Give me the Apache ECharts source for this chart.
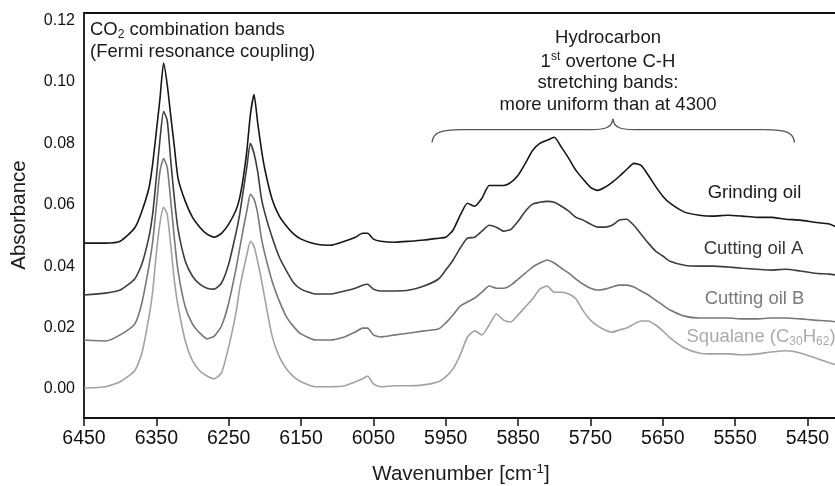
<!DOCTYPE html>
<html>
<head>
<meta charset="utf-8">
<script src="https://cdn.jsdelivr.net/npm/echarts@6/dist/echarts.min.js"></script>
<style>
  html, body { margin: 0; padding: 0; background: #fff; }
  #chart { width: 835px; height: 486px; }
</style>
</head>
<body>
<div id="chart"></div>
<script>
// NIR absorbance spectra of metalworking oils, 6450–5410 cm-1
const wavenumbers = [6450, 6420, 6400, 6380, 6370, 6360, 6355, 6350, 6345, 6340,
  6335, 6330, 6325, 6320, 6310, 6300, 6290, 6280, 6270, 6260,
  6250, 6240, 6235, 6230, 6225, 6220, 6215, 6210, 6205, 6200,
  6190, 6180, 6170, 6160, 6150, 6130, 6110, 6090, 6075, 6065,
  6058, 6050, 6040, 6020, 6000, 5980, 5960, 5950, 5940, 5930,
  5920, 5910, 5900, 5890, 5880, 5870, 5860, 5850, 5840, 5830,
  5820, 5810, 5800, 5790, 5780, 5770, 5760, 5750, 5740, 5730,
  5720, 5710, 5700, 5690, 5680, 5670, 5660, 5650, 5640, 5620,
  5600, 5580, 5560, 5540, 5520, 5500, 5480, 5460, 5440, 5420, 5410];

const grindingOil = [0.0475, 0.0475, 0.0481, 0.0524, 0.0579, 0.0657, 0.0735, 0.0839, 0.0946, 0.1062,
  0.0992, 0.0888, 0.0787, 0.0686, 0.0611, 0.0559, 0.0527, 0.0504, 0.0494, 0.0507,
  0.0537, 0.0582, 0.0621, 0.0686, 0.0774, 0.0894, 0.0959, 0.0868, 0.0784, 0.0715,
  0.0618, 0.0563, 0.0530, 0.0504, 0.0488, 0.0472, 0.0468, 0.0481, 0.0494, 0.0507,
  0.0507, 0.0488, 0.0481, 0.0478, 0.0481, 0.0485, 0.0491, 0.0494, 0.0517, 0.0566,
  0.0605, 0.0595, 0.0621, 0.0663, 0.0663, 0.0663, 0.0673, 0.0696, 0.0735, 0.0777,
  0.0800, 0.0810, 0.0820, 0.0787, 0.0751, 0.0712, 0.0683, 0.0657, 0.0647, 0.0657,
  0.0673, 0.0693, 0.0715, 0.0735, 0.0728, 0.0696, 0.0660, 0.0628, 0.0605, 0.0576,
  0.0566, 0.0563, 0.0566, 0.0563, 0.0559, 0.0559, 0.0553, 0.0550, 0.0543, 0.0537, 0.0527];

const cuttingOilA = [0.0306, 0.0312, 0.0322, 0.0358, 0.0407, 0.0498, 0.0572, 0.0689, 0.0813, 0.0904,
  0.0875, 0.0741, 0.0618, 0.0520, 0.0416, 0.0367, 0.0341, 0.0328, 0.0325, 0.0345,
  0.0407, 0.0507, 0.0566, 0.0644, 0.0722, 0.0800, 0.0767, 0.0709, 0.0624, 0.0572,
  0.0494, 0.0429, 0.0384, 0.0345, 0.0325, 0.0309, 0.0309, 0.0319, 0.0328, 0.0338,
  0.0341, 0.0325, 0.0319, 0.0319, 0.0322, 0.0335, 0.0358, 0.0387, 0.0419, 0.0459,
  0.0491, 0.0494, 0.0514, 0.0533, 0.0527, 0.0514, 0.0520, 0.0546, 0.0579, 0.0602,
  0.0608, 0.0611, 0.0608, 0.0595, 0.0579, 0.0559, 0.0550, 0.0537, 0.0527, 0.0527,
  0.0533, 0.0550, 0.0553, 0.0533, 0.0504, 0.0475, 0.0449, 0.0433, 0.0416, 0.0403,
  0.0400, 0.0400, 0.0397, 0.0393, 0.0390, 0.0387, 0.0390, 0.0384, 0.0377, 0.0374, 0.0371];

const cuttingOilB = [0.0159, 0.0156, 0.0176, 0.0211, 0.0280, 0.0403, 0.0481, 0.0595, 0.0709, 0.0751,
  0.0722, 0.0611, 0.0488, 0.0384, 0.0267, 0.0211, 0.0182, 0.0163, 0.0172, 0.0205,
  0.0280, 0.0390, 0.0455, 0.0520, 0.0579, 0.0634, 0.0618, 0.0572, 0.0494, 0.0439,
  0.0351, 0.0286, 0.0234, 0.0202, 0.0179, 0.0159, 0.0159, 0.0169, 0.0185, 0.0198,
  0.0198, 0.0176, 0.0169, 0.0176, 0.0182, 0.0189, 0.0195, 0.0215, 0.0241, 0.0270,
  0.0283, 0.0296, 0.0315, 0.0335, 0.0328, 0.0328, 0.0338, 0.0358, 0.0377, 0.0397,
  0.0410, 0.0420, 0.0410, 0.0393, 0.0377, 0.0358, 0.0341, 0.0328, 0.0322, 0.0325,
  0.0332, 0.0338, 0.0338, 0.0332, 0.0319, 0.0306, 0.0289, 0.0273, 0.0257, 0.0237,
  0.0231, 0.0231, 0.0231, 0.0228, 0.0228, 0.0231, 0.0231, 0.0228, 0.0224, 0.0221, 0.0218];

const squalane = [0.0003, 0.0007, 0.0023, 0.0059, 0.0117, 0.0237, 0.0319, 0.0442, 0.0540, 0.0592,
  0.0569, 0.0465, 0.0351, 0.0270, 0.0156, 0.0091, 0.0059, 0.0042, 0.0033, 0.0052,
  0.0137, 0.0247, 0.0325, 0.0384, 0.0436, 0.0481, 0.0465, 0.0416, 0.0358, 0.0293,
  0.0172, 0.0104, 0.0065, 0.0039, 0.0023, 0.0007, 0.0007, 0.0010, 0.0023, 0.0033,
  0.0042, 0.0016, 0.0007, 0.0010, 0.0010, 0.0013, 0.0023, 0.0039, 0.0065, 0.0111,
  0.0169, 0.0189, 0.0176, 0.0208, 0.0244, 0.0224, 0.0218, 0.0241, 0.0267, 0.0293,
  0.0325, 0.0335, 0.0315, 0.0315, 0.0309, 0.0293, 0.0254, 0.0224, 0.0205, 0.0192,
  0.0185, 0.0192, 0.0198, 0.0211, 0.0221, 0.0221, 0.0208, 0.0189, 0.0166, 0.0133,
  0.0117, 0.0114, 0.0114, 0.0111, 0.0114, 0.0120, 0.0124, 0.0117, 0.0101, 0.0085, 0.0078];

const xTickLabels = [6450, 6350, 6250, 6150, 6050, 5950, 5850, 5750, 5650, 5550, 5450];
const yTickLabels = [0, 0.02, 0.04, 0.06, 0.08, 0.10, 0.12];

// curly bracket over the C-H overtone region: left end, tip, right end (cm-1)
const braceWavenumbers = [5969, 5719, 5468];
// absorbance levels of the bracket: end points, bar, tip
const braceLevels = [0.0803, 0.0845, 0.0880];

const fontFamily = '"Liberation Sans", Arial, Helvetica, sans-serif';
const ink = '#1a1a1a';

function spectrum(name, values, color) {
  return {
    name: name,
    type: 'line',
    data: wavenumbers.map((w, i) => [w, values[i]]),
    symbol: 'none',
    showSymbol: false,
    smooth: 0.2,
    silent: true,
    lineStyle: { color: color, width: 1.6 },
    z: 3
  };
}

function bracket(params, api) {
  const L = api.coord([braceWavenumbers[0], braceLevels[0]]);
  const T = api.coord([braceWavenumbers[1], braceLevels[2]]);
  const R = api.coord([braceWavenumbers[2], braceLevels[0]]);
  const yb = api.coord([braceWavenumbers[1], braceLevels[1]])[1];
  const st = { stroke: '#555', lineWidth: 1.3, fill: 'none' };
  return {
    type: 'group',
    children: [
      { type: 'bezierCurve', shape: { x1: L[0], y1: L[1], cpx1: L[0] + 1, cpy1: yb + 3, cpx2: L[0] + 8, cpy2: yb, x2: L[0] + 30, y2: yb }, style: st },
      { type: 'line', shape: { x1: L[0] + 30, y1: yb, x2: T[0] - 21, y2: yb }, style: st },
      { type: 'bezierCurve', shape: { x1: T[0] - 21, y1: yb, cpx1: T[0] - 8, cpy1: yb, cpx2: T[0] - 1, cpy2: yb - 2, x2: T[0], y2: T[1] }, style: st },
      { type: 'bezierCurve', shape: { x1: T[0], y1: T[1], cpx1: T[0] + 1, cpy1: yb - 2, cpx2: T[0] + 8, cpy2: yb, x2: T[0] + 21, y2: yb }, style: st },
      { type: 'line', shape: { x1: T[0] + 21, y1: yb, x2: R[0] - 30, y2: yb }, style: st },
      { type: 'bezierCurve', shape: { x1: R[0] - 30, y1: yb, cpx1: R[0] - 8, cpy1: yb, cpx2: R[0] - 1, cpy2: yb + 3, x2: R[0], y2: R[1] }, style: st }
    ]
  };
}

function label(x, y, text, opts) {
  opts = opts || {};
  const size = opts.size || 18.5;
  const fill = opts.fill || ink;
  return {
    type: 'text',
    x: x,
    y: y,
    rotation: opts.rotation || 0,
    silent: true,
    z: 10,
    style: {
      text: text,
      align: opts.align || 'center',
      verticalAlign: 'middle',
      fill: fill,
      fontSize: size,
      fontFamily: fontFamily,
      rich: {
        n: { fontSize: size, lineHeight: 22, fontFamily: fontFamily, fill: fill },
        sub: { fontSize: size * 0.65, lineHeight: 12, verticalAlign: 'bottom', fontFamily: fontFamily, fill: fill },
        sup: { fontSize: size * 0.65, lineHeight: 12, verticalAlign: 'top', fontFamily: fontFamily, fill: fill }
      }
    }
  };
}

const chart = echarts.init(document.getElementById('chart'), null, { renderer: 'canvas' });

const frameLine = { color: '#111', width: 1.8 };

chart.setOption({
  animation: false,
  backgroundColor: '#fff',
  grid: { left: 84, right: 0, top: 13, bottom: 68 },
  xAxis: [
    {
      type: 'value',
      inverse: true,
      min: 5412,
      max: 6450,
      axisLine: { show: true, onZero: false, lineStyle: frameLine },
      axisTick: { show: true, customValues: xTickLabels, length: 8, lineStyle: { color: '#111', width: 1.5 } },
      axisLabel: {
        customValues: xTickLabels,
        formatter: v => String(v),
        fontSize: 19.5, color: '#111', margin: 11, fontFamily: fontFamily
      },
      splitLine: { show: false }
    },
    {
      // upper frame edge
      type: 'value',
      position: 'top',
      inverse: true,
      min: 5412,
      max: 6450,
      axisLine: { show: true, onZero: false, lineStyle: frameLine },
      axisTick: { show: false },
      axisLabel: { show: false },
      splitLine: { show: false }
    }
  ],
  yAxis: {
    type: 'value',
    min: -0.0095,
    max: 0.1225,
    axisLine: { show: true, onZero: false, lineStyle: frameLine },
    axisTick: { show: false },
    axisLabel: {
      customValues: yTickLabels,
      formatter: v => v.toFixed(2),
      fontSize: 16, color: '#111', margin: 9, fontFamily: fontFamily
    },
    splitLine: { show: false }
  },
  series: [
    spectrum('Grinding oil', grindingOil, '#161616'),
    spectrum('Cutting oil A', cuttingOilA, '#3d3d3d'),
    spectrum('Cutting oil B', cuttingOilB, '#777777'),
    spectrum('Squalane (C30H62)', squalane, '#a2a2a2'),
    {
      type: 'custom',
      silent: true,
      renderItem: bracket,
      data: [[braceWavenumbers[1], braceLevels[2]]],
      z: 4
    }
  ],
  graphic: [
    label(90, 30, '{n|CO}{sub|2}{n| combination bands}', { align: 'left' }),
    label(90, 52, '{n|(Fermi resonance coupling)}', { align: 'left' }),
    label(608, 38, '{n|Hydrocarbon}'),
    label(608, 61.5, '{n|1}{sup|st}{n| overtone C-H}'),
    label(608, 83, '{n|stretching bands:}'),
    label(608, 105, '{n|more uniform than at 4300}'),
    label(754.5, 193, '{n|Grinding oil}', { fill: '#1a1a1a' }),
    label(753.5, 248.5, '{n|Cutting oil A}', { fill: '#3a3a3a' }),
    label(754.5, 299, '{n|Cutting oil B}', { fill: '#7b7b7b' }),
    label(686.5, 337, '{n|Squalane (C}{sub|30}{n|H}{sub|62}{n|)}', { align: 'left', fill: '#ababab' }),
    label(19.5, 215, '{n|Absorbance}', { size: 20.5, rotation: Math.PI / 2 }),
    label(461, 474, '{n|Wavenumber [cm}{sup|-1}{n|]}', { size: 20.5 })
  ]
});
</script>
</body>
</html>
